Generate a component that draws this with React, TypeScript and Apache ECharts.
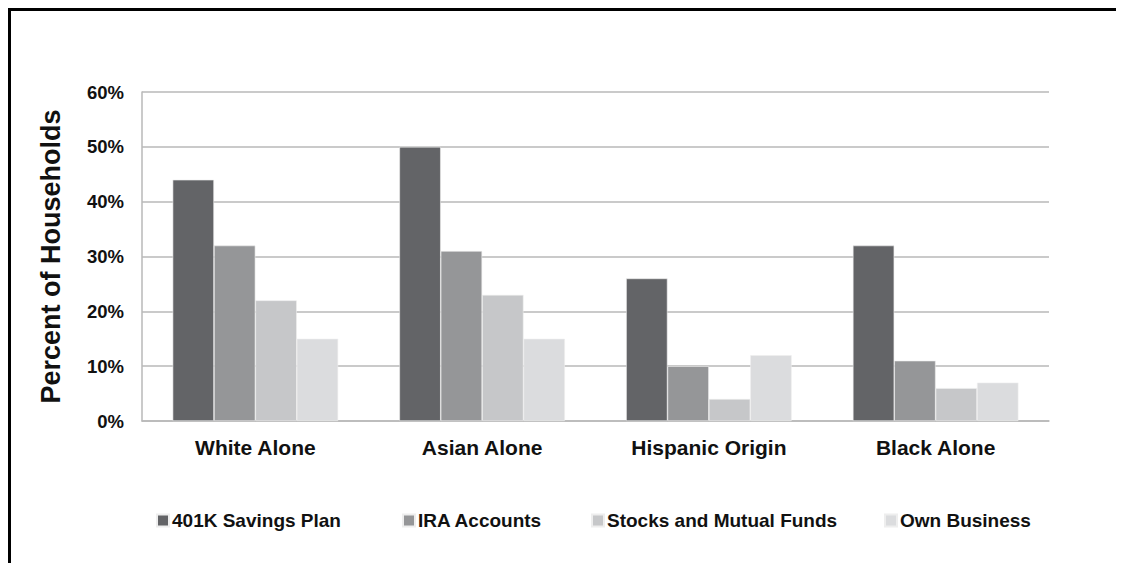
import React, { useEffect, useRef } from "react";
import * as echarts from "echarts";

const categories = ["White Alone", "Asian Alone", "Hispanic Origin", "Black Alone"];
const seriesNames = ["401K Savings Plan", "IRA Accounts", "Stocks and Mutual Funds", "Own Business"];
const savings401k = [44, 50, 26, 32];
const iraAccounts = [32, 31, 10, 11];
const stocksFunds = [22, 23, 4, 6];
const ownBusiness = [15, 15, 12, 7];
const yTicks = [0, 10, 20, 30, 40, 50, 60];

const colors = ["#636467", "#959698", "#c6c7c9", "#dbdcde"];
const legendLeft = [140, 386, 575, 868];
const FONT = "'Liberation Sans', Arial, sans-serif";

export default function App() {
  const ref = useRef<HTMLDivElement>(null);
  useEffect(() => {
    if (!ref.current) return;
    const chart = echarts.init(ref.current, null, { renderer: "svg" });
    const values = [savings401k, iraAccounts, stocksFunds, ownBusiness];
    chart.setOption({
      animation: false,
      textStyle: { fontFamily: FONT },
      grid: { left: 131, top: 81, width: 907, height: 329, containLabel: false },
      legend: seriesNames.map((n, i) => ({
        data: [n],
        left: legendLeft[i],
        top: 495,
        icon: "rect",
        itemWidth: 12,
        itemHeight: 12,
        itemGap: 0,
        selectedMode: false,
        textStyle: { fontFamily: FONT, fontWeight: "bold", fontSize: 19, color: "#111", padding: [0, 0, 0, -2] },
      })),
      xAxis: {
        type: "category",
        data: categories,
        axisTick: { show: false },
        axisLine: { lineStyle: { color: "#b8b8b8", width: 1.5 } },
        axisLabel: { fontFamily: FONT, fontWeight: "bold", fontSize: 21, color: "#111", margin: 16 },
      },
      yAxis: {
        type: "value",
        min: yTicks[0],
        max: yTicks[yTicks.length - 1],
        interval: 10,
        name: "Percent of Households",
        nameLocation: "middle",
        nameGap: 78,
        nameRotate: 90,
        nameTextStyle: { fontFamily: FONT, fontWeight: "bold", fontSize: 27, color: "#111" },
        axisLine: { show: true, lineStyle: { color: "#b8b8b8", width: 1.5 } },
        axisTick: { show: false },
        splitLine: { lineStyle: { color: "#b8b8b8", width: 1.5 } },
        axisLabel: {
          fontFamily: FONT,
          fontWeight: "bold",
          fontSize: 18.5,
          color: "#111",
          margin: 18,
          formatter: (v: number) => v + "%",
        },
      },
      series: seriesNames.map((n, i) => ({
        name: n,
        type: "bar",
        data: values[i],
        barGap: "0%",
        barCategoryGap: "27%",
        itemStyle: { color: colors[i], borderColor: "#eeeeee", borderWidth: 0.6 },
      })),
    });
    return () => chart.dispose();
  }, []);
  return (
    <div style={{ border: "3px solid #000", width: 1106, height: 600, boxSizing: "content-box" }}>
      <div ref={ref} style={{ width: 1106, height: 600 }} />
    </div>
  );
}
